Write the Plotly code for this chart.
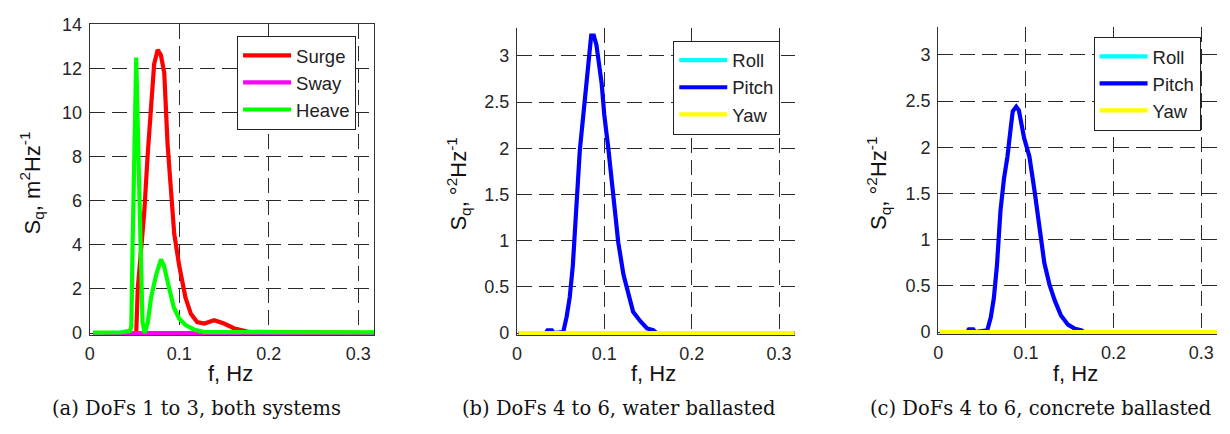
import plotly.graph_objects as go

W, H = 1230, 434

# ---------------- Panel (a): DoFs 1 to 3 ----------------
f_surge = [0.004, 0.050, 0.052, 0.0537, 0.0574, 0.061, 0.0648, 0.0685, 0.072, 0.076, 0.0796,
           0.0833, 0.087, 0.0944, 0.100, 0.107, 0.113, 0.120, 0.128, 0.139, 0.150, 0.161,
           0.172, 0.178, 0.318]
s_surge = [0.0, 0.0, 0.0, 2.0, 3.8, 5.5, 8.1, 10.3, 12.2, 12.85, 12.6,
           11.8, 8.56, 4.5, 3.05, 1.6, 0.87, 0.5, 0.43, 0.58, 0.43, 0.22,
           0.1, 0.05, 0.0]

f_sway = [0.004, 0.050, 0.053, 0.118, 0.122, 0.318]
s_sway = [0.0, 0.0, 0.04, 0.04, 0.0, 0.0]

f_heave = [0.004, 0.035, 0.045, 0.0465, 0.048, 0.050, 0.052, 0.0545, 0.0565, 0.059, 0.0615,
           0.065, 0.0685, 0.074, 0.0796, 0.083, 0.089, 0.094, 0.100, 0.107, 0.117, 0.128, 0.318]
s_heave = [0.02, 0.03, 0.1, 0.3, 4.1, 8.3, 12.5, 8.0, 3.5, 0.5, 0.0,
           0.5, 1.6, 2.6, 3.34, 3.05, 2.0, 1.16, 0.65, 0.36, 0.15, 0.04, 0.03]

# ---------------- Panel (b): DoFs 4 to 6, water ballasted ----------------
f_pitch_w = [0.002, 0.033, 0.035, 0.040, 0.042, 0.053, 0.057, 0.0605, 0.064, 0.068, 0.072,
             0.076, 0.080, 0.0835, 0.085, 0.088, 0.091, 0.097, 0.100, 0.1046, 0.110,
             0.116, 0.122, 0.128, 0.133, 0.141, 0.149, 0.156, 0.160, 0.318]
s_pitch_w = [0.0, 0.0, 0.03, 0.03, 0.0, 0.01, 0.18, 0.39, 0.73, 1.36, 1.98,
             2.36, 2.74, 3.12, 3.22, 3.22, 3.12, 2.7, 2.36, 2.0, 1.46,
             0.98, 0.63, 0.39, 0.23, 0.13, 0.05, 0.03, 0.0, 0.0]
f_roll_w = [0.002, 0.318]
s_roll_w = [0.0, 0.0]
f_yaw_w = [0.002, 0.318]
s_yaw_w = [0.0, 0.0]

# ---------------- Panel (c): DoFs 4 to 6, concrete ballasted ----------------
f_pitch_c = [0.002, 0.033, 0.035, 0.040, 0.042, 0.056, 0.060, 0.0635, 0.067, 0.071, 0.075,
             0.079, 0.0827, 0.085, 0.089, 0.092, 0.098, 0.104, 0.110, 0.115, 0.121,
             0.127, 0.133, 0.140, 0.148, 0.156, 0.163, 0.166, 0.318]
s_pitch_c = [0.0, 0.0, 0.03, 0.03, 0.0, 0.02, 0.16, 0.37, 0.72, 1.31, 1.66,
             1.9, 2.21, 2.39, 2.44, 2.4, 2.1, 1.9, 1.52, 1.14, 0.75,
             0.51, 0.34, 0.18, 0.08, 0.035, 0.02, 0.0, 0.0]
f_roll_c = [0.002, 0.318]
s_roll_c = [0.0, 0.0]
f_yaw_c = [0.002, 0.318]
s_yaw_c = [0.0, 0.0]

x_ticks = [0, 0.1, 0.2, 0.3]
x_ticklabels = ["0", "0.1", "0.2", "0.3"]
ya_ticks = [0, 2, 4, 6, 8, 10, 12, 14]
yb_ticks = [0, 0.5, 1, 1.5, 2, 2.5, 3]
yb_ticklabels = ["0", "0.5", "1", "1.5", "2", "2.5", "3"]

captions = ["(a) DoFs 1 to 3, both systems",
            "(b) DoFs 4 to 6, water ballasted",
            "(c) DoFs 4 to 6, concrete ballasted"]

RED, MAG, GRN = "#ff0000", "#ff00ff", "#00ff00"
CYA, BLU, YEL = "#00ffff", "#0000ff", "#ffff00"
LW = 4.2

fig = go.Figure()

def add(x, y, name, color, xa, ya, legend):
    fig.add_trace(go.Scatter(x=x, y=y, mode="lines", name=name,
                             line=dict(color=color, width=LW),
                             xaxis=xa, yaxis=ya, legend=legend))

add(f_surge, s_surge, "Surge", RED, "x", "y", "legend")
add(f_sway, s_sway, "Sway", MAG, "x", "y", "legend")
add(f_heave, s_heave, "Heave", GRN, "x", "y", "legend")
add(f_roll_w, s_roll_w, "Roll", CYA, "x2", "y2", "legend2")
add(f_pitch_w, s_pitch_w, "Pitch", BLU, "x2", "y2", "legend2")
add(f_yaw_w, s_yaw_w, "Yaw", YEL, "x2", "y2", "legend2")
add(f_roll_c, s_roll_c, "Roll", CYA, "x3", "y3", "legend3")
add(f_pitch_c, s_pitch_c, "Pitch", BLU, "x3", "y3", "legend3")
add(f_yaw_c, s_yaw_c, "Yaw", YEL, "x3", "y3", "legend3")

def px_x(p):
    return p / W

def px_y(p):
    return 1 - p / H

TICKFONT = dict(family="Liberation Sans, Arial, sans-serif", size=18, color="#262626")
GRID = dict(showgrid=True, gridcolor="#2a2a2a", gridwidth=1, griddash="15px,7px",
            zeroline=False, ticks="", tickfont=TICKFONT)

panels = [
    dict(l=85, r=371, t=15, b0=337, yr=(0, 14), ppu=(337 - 15) / 14.0),
    dict(l=514, r=793, t=19, b0=337, yr=(0, 3.3), ppu=(337 - 19) / 3.3),
    dict(l=937, r=1217, t=18, b0=336, yr=(0, 3.3), ppu=(336 - 18) / 3.3),
]
ext = 2.5  # extend below zero so the zero-level lines are not clipped

layout_axes = {}
for i, p in enumerate(panels):
    sfx = "" if i == 0 else str(i + 1)
    ymin = -ext / p["ppu"]
    box = (i == 0)
    layout_axes["xaxis" + sfx] = dict(
        domain=[px_x(p["l"]), px_x(p["r"])], range=[0, 0.318],
        tickvals=x_ticks, ticktext=x_ticklabels,
        anchor="y" + sfx, showline=True, linecolor="#333333", linewidth=1,
        mirror=box, ticklabelstandoff=2, **GRID)
    layout_axes["yaxis" + sfx] = dict(
        domain=[px_y(p["b0"] + ext), px_y(p["t"])], range=[ymin, p["yr"][1]],
        tickvals=ya_ticks if i == 0 else yb_ticks,
        ticktext=[str(v) for v in ya_ticks] if i == 0 else yb_ticklabels,
        anchor="x" + sfx, showline=True, linecolor="#333333", linewidth=1,
        mirror=box, ticklabelstandoff=3, **GRID)

LEGFONT = dict(family="Liberation Sans, Arial, sans-serif", size=18.5, color="#222222")
def leg(xp, yp):
    return dict(x=px_x(xp), y=px_y(yp), xanchor="left", yanchor="top",
                bgcolor="white", bordercolor="#222222", borderwidth=1,
                font=LEGFONT, itemwidth=48, tracegroupgap=0,
                xref="paper", yref="paper")

annotations = []
TITLEFONT = dict(family="Liberation Sans, Arial, sans-serif", size=22, color="#111111")
ytitles = ["S<sub>q</sub>, m<sup>2</sup>Hz<sup>-1</sup>",
           "S<sub>q</sub>, °<sup>2</sup>Hz<sup>-1</sup>",
           "S<sub>q</sub>, °<sup>2</sup>Hz<sup>-1</sup>"]
ytitle_x = [27, 455, 877]
ytitle_y = [180, 182, 181]
for i, p in enumerate(panels):
    annotations.append(dict(text=ytitles[i], textangle=-90, x=px_x(ytitle_x[i]),
                            y=px_y(ytitle_y[i]), xref="paper", yref="paper",
                            xanchor="center", yanchor="middle", showarrow=False,
                            font=TITLEFONT))
    annotations.append(dict(text="f, Hz", x=px_x((p["l"] + p["r"]) / 2 - 2),
                            y=px_y(379), xref="paper", yref="paper",
                            xanchor="center", yanchor="middle", showarrow=False,
                            font=TITLEFONT))
cap_x = [192, 616, 1040]
for i, c in enumerate(captions):
    annotations.append(dict(text=c, x=px_x(cap_x[i]), y=px_y(416), xref="paper",
                            yref="paper", xanchor="center", yanchor="middle",
                            showarrow=False,
                            font=dict(family="DejaVu Serif, Liberation Serif, serif",
                                      size=19.5, color="#111111")))

fig.update_layout(
    width=W, height=H, margin=dict(l=0, r=0, t=0, b=0),
    paper_bgcolor="white", plot_bgcolor="white",
    showlegend=True,
    legend=leg(233, 27), legend2=leg(671, 32), legend3=leg(1093, 28),
    annotations=annotations,
    **layout_axes,
)

fig.write_html("out.html")
